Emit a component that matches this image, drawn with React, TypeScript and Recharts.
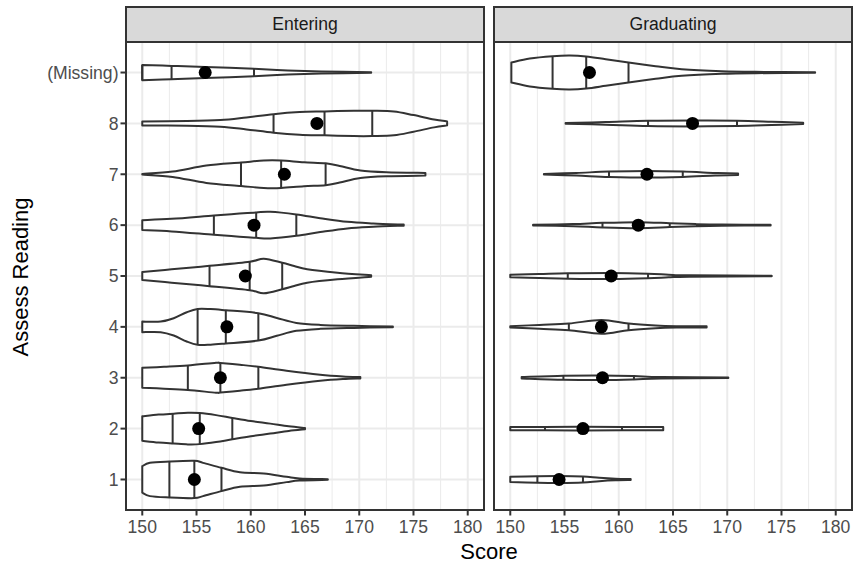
import { ScatterChart, Scatter, XAxis, YAxis, CartesianGrid } from 'recharts'

// facet panels: Entering / Graduating
const categories = ['1', '2', '3', '4', '5', '6', '7', '8', '(Missing)']
const yTicks = [1, 2, 3, 4, 5, 6, 7, 8, 9]
const xTicks = [150, 155, 160, 165, 170, 175, 180]
const xMinor = [152.5, 157.5, 162.5, 167.5, 172.5, 177.5]

// violin outlines per category: [score, half width in category units]
const enteringShapes: number[][][] = [
  [[150, 0.26], [150.7, 0.327], [152.5, 0.353], [154.8, 0.366], [155.6, 0.327], [157.3, 0.229], [159.0, 0.143], [161.2, 0.118], [163.3, 0.052], [164.5, 0.02], [167.1, 0.006]],
  [[150, 0.241], [151.5, 0.275], [152.9, 0.294], [154.2, 0.31], [155.3, 0.305], [156.8, 0.265], [158.3, 0.21], [160, 0.15], [161.8, 0.098], [163.5, 0.045], [165.0, 0.013]],
  [[150, 0.196], [152, 0.215], [154.2, 0.241], [156.8, 0.294], [157.2, 0.29], [159, 0.255], [160.7, 0.216], [163.3, 0.137], [166.4, 0.059], [168.5, 0.025], [170.1, 0.013]],
  [[150, 0.104], [151.7, 0.104], [152.9, 0.17], [154.1, 0.288], [155.1, 0.353], [156.3, 0.35], [157.7, 0.327], [160.7, 0.269], [162.4, 0.176], [164.2, 0.078], [166.4, 0.039], [169.5, 0.02], [173.1, 0.006]],
  [[150, 0.078], [152.7, 0.131], [156.2, 0.2], [159.9, 0.28], [161.2, 0.34], [162.9, 0.26], [164.0, 0.196], [165.2, 0.131], [168.0, 0.065], [171.1, 0.015]],
  [[150, 0.098], [152.7, 0.124], [156.6, 0.19], [158.7, 0.222], [160.5, 0.249], [161.8, 0.261], [164.2, 0.21], [166.4, 0.137], [168.9, 0.065], [171.3, 0.033], [174.1, 0.01]],
  [[150, 0.006], [152.8, 0.053], [155.9, 0.17], [159.1, 0.23], [161.2, 0.27], [162.8, 0.27], [164.9, 0.235], [166.9, 0.216], [168.2, 0.163], [170.1, 0.073], [172.5, 0.039], [176.1, 0.026]],
  [[150, 0.039], [154.1, 0.045], [157.2, 0.065], [159.6, 0.118], [162.1, 0.182], [164.5, 0.222], [166.8, 0.235], [169.5, 0.249], [171.2, 0.249], [173.2, 0.235], [175.0, 0.163], [176.9, 0.078], [178.1, 0.039]],
  [[150, 0.15], [152.7, 0.13], [155.8, 0.11], [160.3, 0.072], [163.4, 0.04], [166.5, 0.02], [171.1, 0.006]],
]
const enteringQuartiles = [
  [152.5, 154.8, 157.3], [152.8, 155.3, 158.3], [154.2, 157.2, 160.7], [155.1, 157.7, 160.7], [156.2, 159.9, 162.9],
  [156.6, 160.5, 164.2], [159.1, 162.8, 166.9], [162.1, 166.8, 171.2], [150, 152.7, 160.3],
]
const enteringMeans = [154.8, 155.2, 157.2, 157.8, 159.5, 160.3, 163.1, 166.1, 155.8]

const graduatingShapes: number[][][] = [
  [[150, 0.052], [152.5, 0.065], [154.5, 0.069], [156.7, 0.059], [158.2, 0.033], [159.7, 0.016], [161.1, 0.01]],
  [[150, 0.03], [153.2, 0.033], [156.7, 0.035], [160.3, 0.033], [164.1, 0.03]],
  [[151.05, 0.013], [154.9, 0.039], [158.5, 0.045], [161.4, 0.033], [163.9, 0.013], [170.1, 0.006]],
  [[150, 0.013], [152.7, 0.039], [155.4, 0.065], [158.4, 0.137], [160.9, 0.065], [163.4, 0.026], [165.3, 0.013], [168.1, 0.01]],
  [[150, 0.026], [152.7, 0.039], [155.3, 0.052], [159.3, 0.059], [162.7, 0.045], [164.6, 0.026], [166.5, 0.013], [174.1, 0.006]],
  [[152.1, 0.006], [155.8, 0.02], [158.5, 0.045], [161.8, 0.059], [164.7, 0.039], [167.1, 0.02], [169.5, 0.01], [174.0, 0.006]],
  [[153.1, 0.006], [156.1, 0.026], [159.1, 0.052], [162.6, 0.065], [165.9, 0.052], [168.9, 0.026], [171.0, 0.013]],
  [[155.1, 0.006], [158.8, 0.026], [162.7, 0.052], [166.8, 0.059], [170.9, 0.052], [174.1, 0.033], [177.0, 0.013]],
  [[150.1, 0.196], [151.8, 0.275], [153.9, 0.32], [155.5, 0.333], [157.0, 0.314], [158.8, 0.261], [160.9, 0.196], [163.4, 0.124], [165.8, 0.065], [169.5, 0.026], [172.6, 0.013], [178.1, 0.006]],
]
const graduatingQuartiles = [
  [152.5, 154.5, 156.7], [153.2, 156.7, 160.3], [154.9, 158.4, 161.4], [155.4, 158.3, 160.9], [155.3, 159.0, 162.7],
  [158.5, 161.7, 164.7], [159.1, 162.5, 165.9], [162.7, 166.7, 170.9], [153.9, 157.0, 160.9],
]
const graduatingMeans = [154.5, 156.7, 158.5, 158.4, 159.3, 161.8, 162.6, 166.8, 157.3]

const FONT = '"Liberation Sans", Arial, sans-serif'

type Pt = { x: number; y: number }

function halfWidthAt(shape: number[][], q: number) {
  if (q <= shape[0][0]) return shape[0][1]
  for (let i = 1; i < shape.length; i++) {
    if (q <= shape[i][0]) {
      const [x0, w0] = shape[i - 1]
      const [x1, w1] = shape[i]
      return w0 + ((w1 - w0) * (q - x0)) / (x1 - x0)
    }
  }
  return shape[shape.length - 1][1]
}

function outline(shape: number[][], c: number): Pt[] {
  const top = shape.map(([x, w]) => ({ x, y: c + w }))
  const bottom = shape.slice().reverse().map(([x, w]) => ({ x, y: c - w }))
  return [...top, ...bottom]
}

function smoothRun(p: Pt[]) {
  let d = ''
  for (let i = 0; i < p.length - 1; i++) {
    const p0 = p[Math.max(i - 1, 0)]
    const p1 = p[i]
    const p2 = p[i + 1]
    const p3 = p[Math.min(i + 2, p.length - 1)]
    d += ` C${p1.x + (p2.x - p0.x) / 6},${p1.y + (p2.y - p0.y) / 6} ${p2.x - (p3.x - p1.x) / 6},${p2.y - (p3.y - p1.y) / 6} ${p2.x},${p2.y}`
  }
  return d
}

const violinLine = (n: number) => (props: any) => {
  const pts = props.points as Pt[]
  if (!pts || pts.length < 2 * n) return <g />
  const top = pts.slice(0, n)
  const bottom = pts.slice(n)
  const d = `M${top[0].x},${top[0].y}` + smoothRun(top) + ` L${bottom[0].x},${bottom[0].y}` + smoothRun(bottom) + ' Z'
  return <path d={d} fill="#ffffff" stroke="#333333" strokeWidth={2} strokeLinejoin="round" />
}

const segmentLine = (props: any) => {
  const pts = props.points as Pt[]
  let d = ''
  for (let i = 0; i + 1 < pts.length; i += 2) d += `M${pts[i].x},${pts[i].y} L${pts[i + 1].x},${pts[i + 1].y} `
  return <path d={d} fill="none" stroke="#333333" strokeWidth={2} />
}

const noPoint = () => <g />
const meanDot = (p: any) => <circle cx={p.cx} cy={p.cy} r={6.5} fill="#000000" />

interface PanelProps {
  shapes: number[][][]
  quartiles: number[][]
  means: number[]
  showY: boolean
  width: number
  right: number
}

function Panel({ shapes, quartiles, means, showY, width, right }: PanelProps) {
  const qSegs: Pt[] = []
  quartiles.forEach((qs, i) => {
    qs.forEach((q) => {
      const w = halfWidthAt(shapes[i], q)
      qSegs.push({ x: q, y: i + 1 - w }, { x: q, y: i + 1 + w })
    })
  })
  const meanPts = means.map((m, i) => ({ x: m, y: i + 1 }))
  const tick = { fill: '#4d4d4d', fontSize: 17.6, fontFamily: FONT }

  return (
    <ScatterChart width={width} height={567} margin={{ top: 42, right, bottom: 27, left: 0 }}>
      <CartesianGrid horizontal={false} verticalValues={xMinor} stroke="#ebebeb" strokeWidth={1} />
      <CartesianGrid stroke="#ebebeb" strokeWidth={2} />
      <XAxis
        type="number"
        dataKey="x"
        domain={[148.5, 181.5]}
        ticks={xTicks}
        interval={0}
        allowDataOverflow
        axisLine={false}
        tickLine={{ stroke: '#333333', strokeWidth: 2 }}
        tickSize={5.5}
        tickMargin={5}
        tick={tick}
        height={30}
      />
      <YAxis
        type="number"
        dataKey="y"
        domain={[0.4, 9.6]}
        ticks={yTicks}
        interval={0}
        allowDataOverflow
        axisLine={false}
        width={showY ? 126 : 0}
        tickLine={showY ? { stroke: '#333333', strokeWidth: 2 } : false}
        tickSize={5.5}
        tickMargin={2}
        tick={showY ? tick : false}
        tickFormatter={(v: number) => categories[v - 1]}
      />
      {shapes.map((s, i) => (
        <Scatter
          key={i}
          data={outline(s, i + 1)}
          line={violinLine(s.length)}
          shape={noPoint}
          isAnimationActive={false}
        />
      ))}
      <Scatter data={qSegs} line={segmentLine} shape={noPoint} isAnimationActive={false} />
      <Scatter data={meanPts} shape={meanDot} isAnimationActive={false} />
    </ScatterChart>
  )
}

const stripStyle = {
  position: 'absolute' as const,
  top: 6,
  width: 360,
  height: 37,
  boxSizing: 'border-box' as const,
  border: '2px solid #333333',
  background: '#d9d9d9',
  color: '#1a1a1a',
  fontSize: 17.6,
  fontFamily: FONT,
  display: 'flex',
  alignItems: 'center',
  justifyContent: 'center',
}

const borderStyle = {
  position: 'absolute' as const,
  top: 41,
  width: 360,
  height: 470,
  boxSizing: 'border-box' as const,
  border: '2px solid #333333',
  pointerEvents: 'none' as const,
}

export default function App() {
  return (
    <div style={{ position: 'absolute', left: 0, top: 0, width: 855, height: 567, background: '#fff', fontFamily: FONT, overflow: 'hidden' }}>
      <div style={{ position: 'absolute', left: 0, top: 0 }}>
        <Panel shapes={enteringShapes} quartiles={enteringQuartiles} means={enteringMeans} showY width={490} right={6} />
      </div>
      <div style={{ position: 'absolute', left: 494, top: 0 }}>
        <Panel shapes={graduatingShapes} quartiles={graduatingQuartiles} means={graduatingMeans} showY={false} width={361} right={3} />
      </div>

      <div style={{ ...borderStyle, left: 125 }} />
      <div style={{ ...borderStyle, left: 493 }} />
      <div style={{ ...stripStyle, left: 125 }}>Entering</div>
      <div style={{ ...stripStyle, left: 493 }}>Graduating</div>

      <div style={{ position: 'absolute', left: 21, top: 277, transform: 'translate(-50%, -50%) rotate(-90deg)', whiteSpace: 'nowrap', fontSize: 22, lineHeight: 1, color: '#000' }}>
        Assess Reading
      </div>
      <div style={{ position: 'absolute', left: 489, top: 541, transform: 'translateX(-50%)', whiteSpace: 'nowrap', fontSize: 22, lineHeight: 1, color: '#000' }}>
        Score
      </div>
    </div>
  )
}
